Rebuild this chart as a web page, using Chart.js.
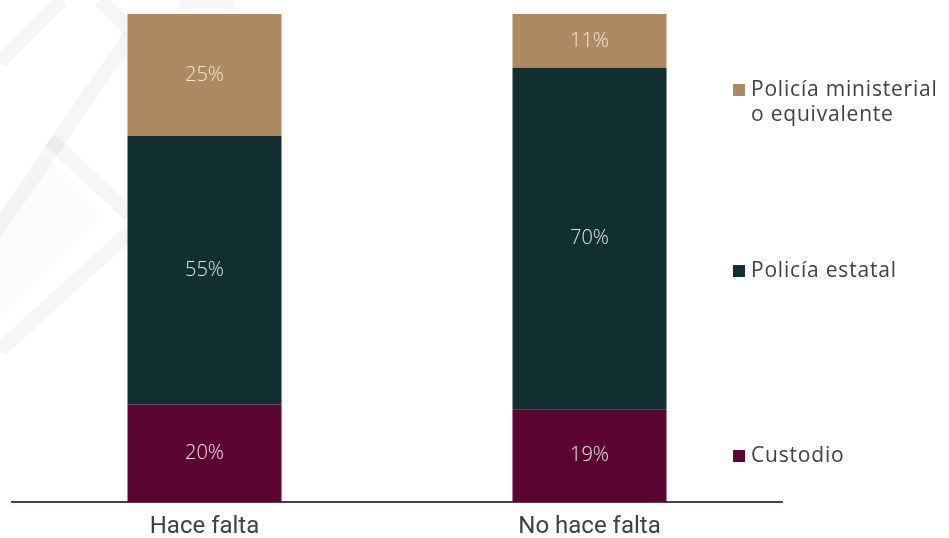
<!DOCTYPE html>
<html>
<head>
<meta charset="utf-8">
<script src="https://cdn.jsdelivr.net/npm/chart.js@4"></script>
<style>
  html, body { margin: 0; padding: 0; background: #fff; }
  #wrap { width: 949px; height: 538px; }
</style>
</head>
<body>
<div id="wrap"><canvas id="grafico" width="949" height="538"></canvas></div>
<script>
const categorias = ['Hace falta', 'No hace falta'];
const custodio = [20, 19];
const estatal = [55, 70];
const ministerial = [25, 11];
const leyenda = [
  { texto: ['Policía ministerial', 'o equivalente'], color: '#AE8A62', y: 90 },
  { texto: ['Policía estatal'], color: '#112E31', y: 271 },
  { texto: ['Custodio'], color: '#5C0532', y: 456 }
];

// marca de agua gris de fondo
const fondo = {
  id: 'fondo',
  beforeDraw(chart) {
    const c = chart.ctx;
    c.save();
    c.strokeStyle = 'rgba(0,0,0,0.04)';
    c.lineWidth = 15;
    const lineas = [
      [0, 62, 62, 0],
      [100, 0, 140, 40],
      [130, 36, -10, 240],
      [50, 140, 130, 215],
      [130, 232, 0, 350],
      [180, 0, 235, 0]
    ];
    lineas.forEach(l => {
      c.beginPath();
      c.moveTo(l[0], l[1]);
      c.lineTo(l[2], l[3]);
      c.stroke();
    });
    c.fillStyle = 'rgba(0,0,0,0.015)';
    c.beginPath();
    c.moveTo(45, 155);
    c.lineTo(105, 215);
    c.lineTo(0, 320);
    c.lineTo(0, 215);
    c.closePath();
    c.fill();
    c.restore();
  }
};

// etiquetas de porcentaje y leyenda a la derecha
const etiquetas = {
  id: 'etiquetas',
  afterDatasetsDraw(chart) {
    const c = chart.ctx;
    c.save();
    c.font = '300 20px "Open Sans", Lato, sans-serif';
    c.textAlign = 'center';
    c.textBaseline = 'middle';
    chart.data.datasets.forEach((ds, i) => {
      chart.getDatasetMeta(i).data.forEach((bar, j) => {
        const p = bar.getProps(['x', 'y', 'base'], true);
        c.fillStyle = i === 2 ? '#F2E6D8' : '#E6E6E6';
        c.fillText(ds.data[j] + '%', p.x, (p.y + p.base) / 2);
      });
    });
    c.font = '21px "Open Sans", Lato, sans-serif';
    c.letterSpacing = '0.8px';
    c.textAlign = 'left';
    leyenda.forEach(item => {
      c.fillStyle = item.color;
      c.fillRect(733, item.y - 6, 12, 12);
      c.fillStyle = '#404040';
      item.texto.forEach((t, k) => c.fillText(t, 751, item.y + k * 25));
    });
    c.restore();
  }
};

const ctx = document.getElementById('grafico').getContext('2d');
new Chart(ctx, {
  type: 'bar',
  data: {
    labels: categorias,
    datasets: [
      { label: 'Custodio', data: custodio, backgroundColor: '#5C0532' },
      { label: 'Policía estatal', data: estatal, backgroundColor: '#112E31' },
      { label: 'Policía ministerial o equivalente', data: ministerial, backgroundColor: '#AE8A62' }
    ]
  },
  options: {
    responsive: false,
    animation: false,
    barPercentage: 0.4,
    categoryPercentage: 1,
    layout: { padding: { left: 12, right: 167, top: 14, bottom: 0 } },
    plugins: {
      legend: { display: false },
      tooltip: { enabled: false }
    },
    scales: {
      x: {
        stacked: true,
        grid: { display: false, drawTicks: false },
        border: { display: true, color: '#5A3A45', width: 2 },
        ticks: {
          color: '#404040',
          padding: 13,
          font: { family: '"Liberation Sans Narrow", Roboto, sans-serif', size: 24, lineHeight: 1 }
        },
        afterFit: s => { s.height = 36; }
      },
      y: {
        stacked: true,
        display: false,
        min: 0,
        max: 100
      }
    }
  },
  plugins: [fondo, etiquetas]
});
</script>
</body>
</html>
